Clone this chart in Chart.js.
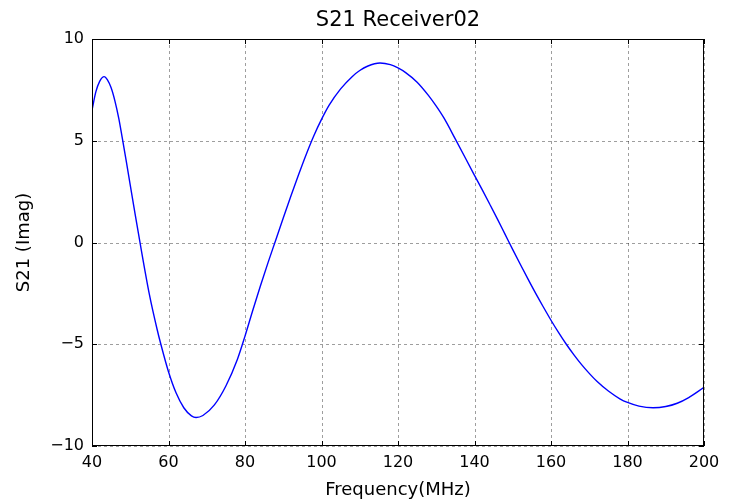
<!DOCTYPE html>
<html>
<head>
<meta charset="utf-8">
<script src="https://cdn.jsdelivr.net/npm/chart.js@4/dist/chart.umd.min.js"></script>
<style>
  html, body { margin: 0; padding: 0; background: #ffffff; }
  canvas { display: block; }
</style>
</head>
<body>
<canvas id="c" width="734" height="503"></canvas>
<script>
// ---- data ----
const titleText = "S21 Receiver02";
const xLabel = "Frequency(MHz)";
const yLabel = "S21 (Imag)";
const xTicks = [40, 60, 80, 100, 120, 140, 160, 180, 200];
const yTicks = [-10, -5, 0, 5, 10];
const freqMHz = [40, 41, 42, 43.2, 44, 45, 46, 47, 47.9, 49, 50, 51, 52.5, 55, 57, 58, 60, 62, 64, 66, 67.2,
                 69, 72, 75, 78, 80, 82, 84, 86, 88, 90, 92, 94, 96, 98, 100, 102, 105, 108, 110, 112, 115.3,
                 118, 120, 122, 125, 128, 130, 132, 135, 140, 142, 144, 146, 148, 150, 152, 154, 156, 158, 160, 162, 164,
                 166, 168, 170, 172, 175, 178, 180, 183, 186.7, 190, 193, 196, 200];
const s21Imag = [6.5, 7.4, 7.92, 8.15, 8.0, 7.6, 6.95, 6.1, 5.15, 3.95, 2.82, 1.7, 0.05, -2.55, -4.25, -5.0, -6.35, -7.4, -8.12, -8.52, -8.6,
                 -8.5, -7.98, -7.05, -5.75, -4.6, -3.35, -2.15, -1.0, 0.1, 1.2, 2.28, 3.33, 4.33, 5.25, 6.05, 6.75, 7.55, 8.15, 8.45, 8.66, 8.82,
                 8.74, 8.58, 8.35, 7.88, 7.22, 6.7, 6.12, 5.08, 3.3, 2.6, 1.88, 1.15, 0.4, -0.35, -1.08, -1.8, -2.5, -3.17, -3.82, -4.43, -5.0,
                 -5.52, -6.0, -6.43, -6.82, -7.3, -7.68, -7.86, -8.04, -8.12, -8.06, -7.9, -7.62, -7.12];

const points = freqMHz.map((f, i) => ({ x: f, y: s21Imag[i] }));
const FONT = "'DejaVu Sans', sans-serif";
const minusFmt = v => String(v).replace('-', '\u2212');

// dashed grid under the line
const gridPlugin = {
  id: 'dashgrid',
  beforeDatasetsDraw(chart) {
    const { ctx, chartArea: a, scales: { x, y } } = chart;
    ctx.save();
    ctx.strokeStyle = 'rgba(0,0,0,0.38)';
    ctx.lineWidth = 1;
    ctx.setLineDash([3, 3]);
    ctx.beginPath();
    xTicks.forEach(v => {
      const px = Math.round(x.getPixelForValue(v)) + 0.5;
      ctx.moveTo(px, a.top); ctx.lineTo(px, a.bottom);
    });
    yTicks.forEach(v => {
      const py = Math.round(y.getPixelForValue(v)) + 0.5;
      ctx.moveTo(a.left, py); ctx.lineTo(a.right, py);
    });
    ctx.stroke();
    ctx.restore();
  }
};

// frame, inward ticks on all sides, and title centred on plot area
const framePlugin = {
  id: 'frame',
  afterDatasetsDraw(chart) {
    const { ctx, chartArea: a, scales: { x, y } } = chart;
    ctx.save();
    ctx.strokeStyle = '#000';
    ctx.lineWidth = 1;
    ctx.strokeRect(a.left + 0.5, a.top + 0.5, a.right - a.left - 1, a.bottom - a.top - 1);
    const tl = 5;
    ctx.beginPath();
    xTicks.forEach(v => {
      const px = Math.round(x.getPixelForValue(v)) + 0.5;
      ctx.moveTo(px, a.bottom); ctx.lineTo(px, a.bottom - tl);
      ctx.moveTo(px, a.top); ctx.lineTo(px, a.top + tl);
    });
    yTicks.forEach(v => {
      const py = Math.round(y.getPixelForValue(v)) + 0.5;
      ctx.moveTo(a.left, py); ctx.lineTo(a.left + tl, py);
      ctx.moveTo(a.right, py); ctx.lineTo(a.right - tl, py);
    });
    ctx.stroke();
    ctx.fillStyle = '#000';
    ctx.font = "21px " + FONT;
    ctx.textAlign = 'center';
    ctx.textBaseline = 'middle';
    ctx.fillText(titleText, (a.left + a.right) / 2, 21);
    ctx.restore();
  }
};

new Chart(document.getElementById('c'), {
  type: 'line',
  data: {
    datasets: [{
      data: points,
      borderColor: '#0000ff',
      borderWidth: 1.4,
      pointRadius: 0,
      fill: false,
      cubicInterpolationMode: 'monotone'
    }]
  },
  options: {
    responsive: false,
    animation: false,
    layout: { padding: { top: 39, right: 30, bottom: 0, left: 0 } },
    plugins: { legend: { display: false }, title: { display: false }, tooltip: { enabled: false } },
    scales: {
      x: {
        type: 'linear',
        min: 40, max: 200,
        afterBuildTicks: s => { s.ticks = xTicks.map(v => ({ value: v })); },
        afterFit: s => { s.height = 57; },
        grid: { display: false, drawTicks: false, tickLength: 0 },
        border: { display: false },
        ticks: { color: '#000', font: { family: FONT, size: 16 }, padding: 7, maxRotation: 0, callback: v => minusFmt(v) },
        title: { display: true, text: xLabel, color: '#000', font: { family: FONT, size: 18 }, padding: { top: 2, bottom: 2 } }
      },
      y: {
        type: 'linear',
        min: -10, max: 10,
        afterBuildTicks: s => { s.ticks = yTicks.map(v => ({ value: v })); },
        afterFit: s => { s.width = 92; },
        grid: { display: false, drawTicks: false, tickLength: 0 },
        border: { display: false },
        ticks: { color: '#000', font: { family: FONT, size: 16 }, padding: 8, callback: v => minusFmt(v) },
        title: { display: true, text: yLabel, color: '#000', font: { family: FONT, size: 18 }, padding: { top: 14, bottom: 0 } }
      }
    }
  },
  plugins: [gridPlugin, framePlugin]
});
</script>
</body>
</html>
